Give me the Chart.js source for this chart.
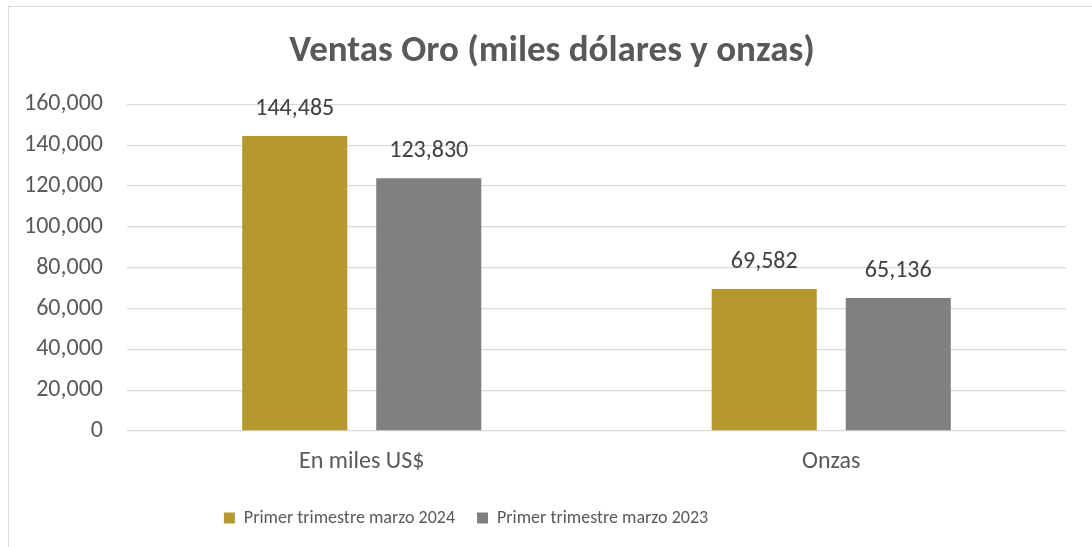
<!DOCTYPE html>
<html>
<head>
<meta charset="utf-8">
<script src="https://cdn.jsdelivr.net/npm/chart.js@4.4.1/dist/chart.umd.min.js"></script>
<style>
  body { margin: 0; background: #fff; overflow: hidden; }
  #frame { position: absolute; left: 8px; top: 6px; width: 1200px; height: 700px;
           border-left: 1px solid #d9d9d9; border-top: 1px solid #d9d9d9; }
  canvas { position: absolute; left: 0; top: 0; }
</style>
</head>
<body>
<div id="frame"></div>
<canvas id="c" width="1092" height="547"></canvas>
<script>
const categories = ["En miles US$", "Onzas"];
const seriesNames = ["Primer trimestre marzo 2024", "Primer trimestre marzo 2023"];
const series2024 = [144485, 69582];
const series2023 = [123830, 65136];
const yTicks = [0, 20000, 40000, 60000, 80000, 100000, 120000, 140000, 160000];

const FONT = "Carlito, Lato, 'Open Sans', sans-serif";
const fmt = (v) => v.toLocaleString("en-US");

// numbers above the bars
const valueLabels = {
  id: "valueLabels",
  afterDatasetsDraw(chart) {
    const ctx = chart.ctx;
    ctx.save();
    ctx.font = "24px " + FONT;
    ctx.fillStyle = "#404040";
    ctx.textAlign = "center";
    ctx.textBaseline = "bottom";
    chart.data.datasets.forEach((ds, i) => {
      chart.getDatasetMeta(i).data.forEach((bar, j) => {
        ctx.fillText(fmt(ds.data[j]), bar.x, bar.y - 15);
      });
    });
    ctx.restore();
  }
};

// the legend in the original sits left of centre, the title a bit right
const boxShift = {
  id: "boxShift",
  afterLayout(chart) {
    chart.legend.left -= 77;
    chart.legend.right -= 77;
    chart.titleBlock.left += 9;
    chart.titleBlock.right += 9;
  }
};

new Chart(document.getElementById("c"), {
  type: "bar",
  data: {
    labels: categories,
    datasets: [
      { label: seriesNames[0], data: series2024, backgroundColor: "#b5992f" },
      { label: seriesNames[1], data: series2023, backgroundColor: "#808080" }
    ]
  },
  options: {
    responsive: false,
    animation: false,
    devicePixelRatio: 1,
    categoryPercentage: 0.571,
    barPercentage: 0.784,
    layout: { padding: { left: 20, right: 26, top: 0, bottom: 10 } },
    plugins: {
      title: {
        display: true,
        text: "Ventas Oro (miles dólares y onzas)",
        color: "#595959",
        font: { family: FONT, size: 37, weight: "bold", lineHeight: 1.2 },
        padding: { top: 30, bottom: 30 }
      },
      legend: {
        position: "bottom",
        labels: {
          color: "#595959",
          font: { family: FONT, size: 18 },
          boxWidth: 11,
          boxHeight: 11,
          padding: 22
        }
      },
      tooltip: { enabled: false }
    },
    scales: {
      x: {
        grid: { display: false },
        border: { display: false },
        ticks: { color: "#595959", font: { family: FONT, size: 24 }, padding: 9 },
        afterFit(s) { s.height = 56; }
      },
      y: {
        min: 0,
        max: 160000,
        afterBuildTicks(s) { s.ticks = yTicks.map((v) => ({ value: v })); },
        afterFit(s) { s.width = 107; },
        border: { display: false },
        grid: { color: "#d9d9d9", lineWidth: 1.3, drawTicks: false },
        ticks: {
          color: "#595959",
          font: { family: FONT, size: 24 },
          padding: 24,
          callback: (v) => fmt(v)
        }
      }
    }
  },
  plugins: [valueLabels, boxShift]
});
</script>
</body>
</html>
